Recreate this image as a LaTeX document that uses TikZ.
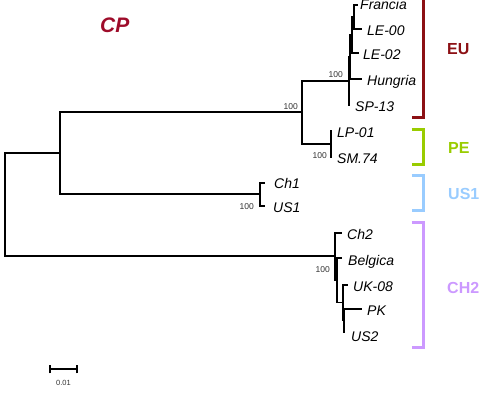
\documentclass[tikz,border=0pt]{standalone}
\usepackage{fontspec}
\setmainfont{Liberation Sans}
\begin{document}
\begin{tikzpicture}[x=1pt,y=-1pt,
  br/.style={line width=1.6pt,line cap=rect},
  taxon/.style={anchor=base west,inner sep=0pt,font=\fontsize{14}{14}\selectfont\itshape},
  boot/.style={anchor=base east,inner sep=0pt,font=\fontsize{8.5}{8.5}\selectfont,text=black!80},
  grp/.style={anchor=base west,inner sep=0pt,font=\fontsize{16}{16}\selectfont\bfseries},
  bracket/.style={line width=3pt,line join=miter}]
\definecolor{cpred}{RGB}{158,12,42}
\definecolor{eured}{RGB}{140,16,20}
\definecolor{pegreen}{RGB}{153,204,0}
\definecolor{usblue}{RGB}{153,204,255}
\definecolor{chpurple}{RGB}{204,153,255}
\useasboundingbox (0,0) rectangle (491,399);
% internal nodes
\coordinate (root) at (5,204.5);
\coordinate (A) at (60,153);
\coordinate (EUPE) at (302,112);
\coordinate (PEn) at (331,144);
\coordinate (C1) at (260,194);
\coordinate (N4) at (349,81);
\coordinate (N3) at (350,57);
\coordinate (N2) at (352,35);
\coordinate (N1) at (354,17);
\coordinate (M2) at (335,256);
\coordinate (M3) at (337,280);
\coordinate (M4) at (343,302.5);
\coordinate (M5) at (344,320.5);
% tips
\coordinate (tFr) at (357,5);
\coordinate (tLE0) at (361,29);
\coordinate (tLE2) at (358,53);
\coordinate (tHu) at (361,79);
\coordinate (tSP) at (349,105);
\coordinate (tLP) at (331,131);
\coordinate (tSM) at (331,157);
\coordinate (tCh1) at (264,183);
\coordinate (tUS1) at (264,206);
\coordinate (tCh2) at (341.5,233);
\coordinate (tBe) at (341.5,258);
\coordinate (tUK) at (347,285);
\coordinate (tPK) at (361.5,309);
\coordinate (tUS2) at (344,332);
% branches
\draw[br] (A) -| (root);
\draw[br] (M2) -| (root);
\draw[br] (EUPE) -| (A);
\draw[br] (C1) -| (A);
\draw[br] (N4) -| (EUPE);
\draw[br] (PEn) -| (EUPE);
\draw[br] (tLP) -| (PEn);
\draw[br] (tSM) -| (PEn);
\draw[br] (tCh1) -| (C1);
\draw[br] (tUS1) -| (C1);
\draw[br] (N3) -| (N4);
\draw[br] (tSP) -| (N4);
\draw[br] (N2) -| (N3);
\draw[br] (tHu) -| (N3);
\draw[br] (N1) -| (N2);
\draw[br] (tLE2) -| (N2);
\draw[br] (tFr) -| (N1);
\draw[br] (tLE0) -| (N1);
\draw[br] (tCh2) -| (M2);
\draw[br] (M3) -| (M2);
\draw[br] (tBe) -| (M3);
\draw[br] (M4) -| (M3);
\draw[br] (tUK) -| (M4);
\draw[br] (M5) -| (M4);
\draw[br] (tPK) -| (M5);
\draw[br] (tUS2) -| (M5);
% taxon labels
\node[taxon] (lFr) at (360,9) {Francia};
\node[taxon] (lLE0) at (367,35) {LE-00};
\node[taxon] (lLE2) at (363,59) {LE-02};
\node[taxon] (lHu) at (367,85) {Hungria};
\node[taxon] (lSP) at (355,111) {SP-13};
\node[taxon] (lLP) at (337,137.5) {LP-01};
\node[taxon] (lSM) at (337,163) {SM.74};
\node[taxon] (lCh1) at (274,188.5) {Ch1};
\node[taxon] (lUS1) at (273,212.5) {US1};
\node[taxon] (lCh2) at (347,239) {Ch2};
\node[taxon] (lBe) at (348,265.5) {Belgica};
\node[taxon] (lUK) at (353,291.5) {UK-08};
\node[taxon] (lPK) at (367,315) {PK};
\node[taxon] (lUS2) at (351,341.5) {US2};
% bootstrap
\node[boot] (b1) at (298,109) {100};
\node[boot] (b2) at (343,77) {100};
\node[boot] (b3) at (327,158) {100};
\node[boot] (b4) at (254,209) {100};
\node[boot] (b5) at (330,272) {100};
% title
\node[anchor=base west,inner sep=0pt,font=\fontsize{21}{21}\selectfont\bfseries\itshape,text=cpred] (cp) at (100,32.7) {CP};
% brackets
\draw[bracket,eured] (423,-5) -- (423,117) -- (411.5,117);
\draw[bracket,pegreen] (411.5,129.5) -- (423,129.5) -- (423,164) -- (411.5,164);
\draw[bracket,usblue] (411.5,175.5) -- (423,175.5) -- (423,210) -- (411.5,210);
\draw[bracket,chpurple] (411.5,222) -- (423,222) -- (423,347.5) -- (411.5,347.5);
\node[grp,text=eured] (gEU) at (447,54) {EU};
\node[grp,text=pegreen] (gPE) at (448,153) {PE};
\node[grp,text=usblue] (gUS) at (448,199) {US1};
\node[grp,text=chpurple] (gCH) at (447,293) {CH2};
% scale bar
\coordinate (s1) at (50,369.3);
\coordinate (s2) at (76.7,369.3);
\draw[line width=1.8pt] (s1) -- (s2);
\draw[line width=1.8pt] ([yshift=-4pt]s1) -- ([yshift=4pt]s1);
\draw[line width=1.8pt] ([yshift=-4pt]s2) -- ([yshift=4pt]s2);
\node[inner sep=0pt,font=\fontsize{7.5}{7.5}\selectfont,text=black!80] (sl) at (63.4,382.7) {0.01};
\end{tikzpicture}
\end{document}
